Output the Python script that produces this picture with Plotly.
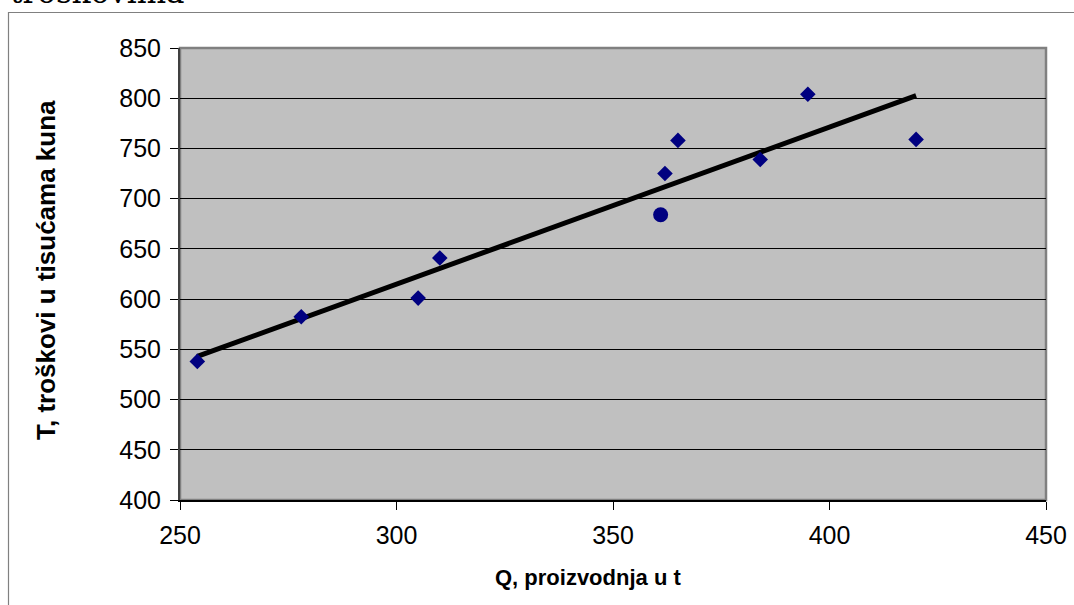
import plotly.graph_objects as go

# Data
Q = [254, 278, 305, 310, 362, 365, 384, 395, 420]
T = [538, 582.5, 601, 641, 725, 758, 739, 804, 759]
Q_point = [361]
T_point = [684]
trend_Q = [254, 420]
trend_T = [543, 802.5]

x_ticks = [250, 300, 350, 400, 450]
y_ticks = [400, 450, 500, 550, 600, 650, 700, 750, 800, 850]

W, H = 1074, 605
L, R, TOP, B = 180, 28, 48, 105
pw, ph = W - L - R, H - TOP - B

def px(xp):
    return (xp - L) / pw

def py(yp):
    return (H - B - yp) / ph

fig = go.Figure()
fig.add_trace(go.Scatter(x=trend_Q, y=trend_T, mode="lines",
                         line=dict(color="black", width=5), showlegend=False,
                         hoverinfo="skip"))
fig.add_trace(go.Scatter(x=Q, y=T, mode="markers",
                         marker=dict(symbol="diamond", size=12, color="#000080"),
                         showlegend=False))
fig.add_trace(go.Scatter(x=Q_point, y=T_point, mode="markers",
                         marker=dict(symbol="circle", size=15, color="#000080"),
                         showlegend=False))

tickfont = dict(family="Liberation Sans, Arial, sans-serif", size=25, color="black")

fig.update_layout(
    width=W, height=H,
    margin=dict(l=L, r=R, t=TOP, b=B, autoexpand=False),
    paper_bgcolor="white",
    plot_bgcolor="#C0C0C0",
    xaxis=dict(range=[250, 450], tickvals=x_ticks, showgrid=False, zeroline=False,
               showline=True, linecolor="black", linewidth=1.5,
               ticks="outside", ticklen=8, tickcolor="black", tickwidth=1,
               tickfont=tickfont, ticklabelstandoff=4),
    yaxis=dict(range=[400, 850], tickvals=y_ticks, showgrid=True, gridcolor="black",
               gridwidth=1, zeroline=False,
               showline=True, linecolor="#404040", linewidth=2,
               ticks="outside", ticklen=8, tickcolor="black", tickwidth=1,
               tickfont=tickfont, ticklabelstandoff=4),
    shapes=[
        dict(type="rect", xref="paper", yref="paper", x0=0, x1=1, y0=0, y1=1,
             line=dict(color="#808080", width=2.5), layer="below"),
        dict(type="rect", xref="paper", yref="paper",
             x0=px(8.5), x1=px(1090), y0=py(620), y1=py(12.5),
             line=dict(color="#808080", width=1.2), layer="below"),
    ],
    annotations=[
        dict(text="<b>Q, proizvodnja u t</b>", xref="paper", yref="paper",
             x=px(588), y=py(577), xanchor="center", yanchor="middle",
             showarrow=False,
             font=dict(family="Liberation Sans, Arial", size=22, color="black")),
        dict(text="<b>T, troškovi u tisućama kuna</b>", xref="paper", yref="paper",
             x=px(46), y=py(270), xanchor="center", yanchor="middle",
             textangle=-90, showarrow=False,
             font=dict(family="Liberation Sans, Arial", size=26, color="black")),
        dict(text="troškovima", xref="paper", yref="paper",
             x=px(8), y=py(12), xanchor="left", yanchor="bottom",
             showarrow=False,
             font=dict(family="DejaVu Serif, serif", size=31, color="black")),
    ],
)

fig.write_html("out.html", config={"displayModeBar": False},
               post_script="document.body.style.margin='0';document.body.style.overflow='hidden';")
